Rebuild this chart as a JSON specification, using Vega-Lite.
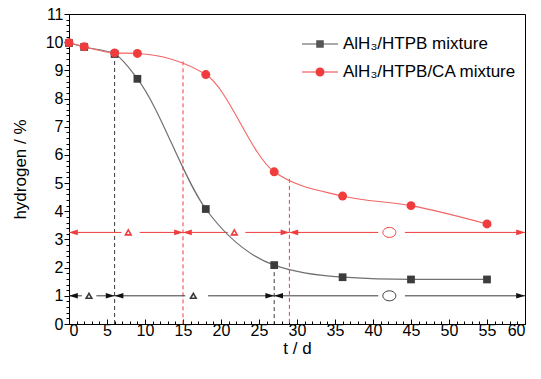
{
  "$schema": "https://vega.github.io/schema/vega-lite/v6.json",
  "width": 456,
  "height": 310,
  "autosize": "none",
  "padding": {"left": 69, "top": 14, "right": 16, "bottom": 55},
  "background": "white",
  "config": {
    "view": {"stroke": "#000", "strokeWidth": 1},
    "font": "Liberation Sans",
    "axis": {"grid": false, "domainColor": "#000", "tickColor": "#000", "labelColor": "#000", "titleColor": "#000", "labelFont": "Liberation Sans", "titleFont": "Liberation Sans", "titleFontWeight": "normal", "labelFontSize": 16, "titleFontSize": 17}
  },
  "datasets": {
    "curves": [
      {"series": "AlH₃/HTPB mixture", "t": 0, "h": 9.97},
      {"series": "AlH₃/HTPB mixture", "t": 2, "h": 9.83},
      {"series": "AlH₃/HTPB mixture", "t": 6, "h": 9.58},
      {"series": "AlH₃/HTPB mixture", "t": 9, "h": 8.7},
      {"series": "AlH₃/HTPB mixture", "t": 18, "h": 4.08},
      {"series": "AlH₃/HTPB mixture", "t": 27, "h": 2.09},
      {"series": "AlH₃/HTPB mixture", "t": 36, "h": 1.66},
      {"series": "AlH₃/HTPB mixture", "t": 45, "h": 1.58},
      {"series": "AlH₃/HTPB mixture", "t": 55, "h": 1.58},
      {"series": "AlH₃/HTPB/CA mixture", "t": 0, "h": 9.98},
      {"series": "AlH₃/HTPB/CA mixture", "t": 2, "h": 9.84},
      {"series": "AlH₃/HTPB/CA mixture", "t": 6, "h": 9.62},
      {"series": "AlH₃/HTPB/CA mixture", "t": 9, "h": 9.6},
      {"series": "AlH₃/HTPB/CA mixture", "t": 18, "h": 8.85},
      {"series": "AlH₃/HTPB/CA mixture", "t": 27, "h": 5.4},
      {"series": "AlH₃/HTPB/CA mixture", "t": 36, "h": 4.54},
      {"series": "AlH₃/HTPB/CA mixture", "t": 45, "h": 4.2},
      {"series": "AlH₃/HTPB/CA mixture", "t": 55, "h": 3.55}
    ],
    "drops": [
      {"series": "AlH₃/HTPB mixture", "t": 6, "h": 9.58},
      {"series": "AlH₃/HTPB mixture", "t": 27, "h": 2.09},
      {"series": "AlH₃/HTPB/CA mixture", "t": 15, "h": 9.32},
      {"series": "AlH₃/HTPB/CA mixture", "t": 29, "h": 5.15}
    ],
    "segments": [
      {"series": "AlH₃/HTPB/CA mixture", "level": 3.25, "x1": 0, "x2": 6.9},
      {"series": "AlH₃/HTPB/CA mixture", "level": 3.25, "x1": 9.3, "x2": 15},
      {"series": "AlH₃/HTPB/CA mixture", "level": 3.25, "x1": 15, "x2": 20.9},
      {"series": "AlH₃/HTPB/CA mixture", "level": 3.25, "x1": 23.2, "x2": 29},
      {"series": "AlH₃/HTPB/CA mixture", "level": 3.25, "x1": 29, "x2": 40.7},
      {"series": "AlH₃/HTPB/CA mixture", "level": 3.25, "x1": 44.2, "x2": 60},
      {"series": "AlH₃/HTPB mixture", "level": 1, "x1": 0, "x2": 1.7},
      {"series": "AlH₃/HTPB mixture", "level": 1, "x1": 3.6, "x2": 6},
      {"series": "AlH₃/HTPB mixture", "level": 1, "x1": 6, "x2": 15.3},
      {"series": "AlH₃/HTPB mixture", "level": 1, "x1": 18.3, "x2": 27},
      {"series": "AlH₃/HTPB mixture", "level": 1, "x1": 27, "x2": 40.7},
      {"series": "AlH₃/HTPB mixture", "level": 1, "x1": 44.2, "x2": 60}
    ],
    "arrows": [
      {"series": "AlH₃/HTPB/CA mixture", "level": 3.25, "t": 0, "dir": "left"},
      {"series": "AlH₃/HTPB/CA mixture", "level": 3.25, "t": 15, "dir": "right"},
      {"series": "AlH₃/HTPB/CA mixture", "level": 3.25, "t": 15, "dir": "left"},
      {"series": "AlH₃/HTPB/CA mixture", "level": 3.25, "t": 29, "dir": "right"},
      {"series": "AlH₃/HTPB/CA mixture", "level": 3.25, "t": 29, "dir": "left"},
      {"series": "AlH₃/HTPB/CA mixture", "level": 3.25, "t": 60, "dir": "right"},
      {"series": "AlH₃/HTPB mixture", "level": 1, "t": 0, "dir": "left"},
      {"series": "AlH₃/HTPB mixture", "level": 1, "t": 6, "dir": "right"},
      {"series": "AlH₃/HTPB mixture", "level": 1, "t": 6, "dir": "left"},
      {"series": "AlH₃/HTPB mixture", "level": 1, "t": 27, "dir": "right"},
      {"series": "AlH₃/HTPB mixture", "level": 1, "t": 27, "dir": "left"},
      {"series": "AlH₃/HTPB mixture", "level": 1, "t": 60, "dir": "right"}
    ],
    "symbols": [
      {"series": "AlH₃/HTPB/CA mixture", "level": 3.25, "t": 7.8, "kind": "triangle"},
      {"series": "AlH₃/HTPB/CA mixture", "level": 3.25, "t": 21.75, "kind": "triangle"},
      {"series": "AlH₃/HTPB/CA mixture", "level": 3.25, "t": 42.15, "kind": "circle"},
      {"series": "AlH₃/HTPB mixture", "level": 1, "t": 2.63, "kind": "triangle"},
      {"series": "AlH₃/HTPB mixture", "level": 1, "t": 16.36, "kind": "triangle"},
      {"series": "AlH₃/HTPB mixture", "level": 1, "t": 42.15, "kind": "circle"}
    ]
  },
  "layer": [
    {
      "data": {"name": "drops"},
      "mark": {"type": "rule", "strokeDash": [4, 3], "strokeWidth": 1},
      "encoding": {
        "x": {"field": "t", "type": "quantitative", "scale": {"domain": [0, 60], "nice": false}, "axis": null},
        "y": {"field": "h", "type": "quantitative", "scale": {"domain": [0, 11], "nice": false}, "axis": null},
        "y2": {"datum": 0},
        "stroke": {"field": "series", "type": "nominal", "scale": {"domain": ["AlH₃/HTPB mixture", "AlH₃/HTPB/CA mixture"], "range": ["#3a3a3a", "#f03c3c"]}, "legend": null}
      }
    },
    {
      "data": {"name": "segments"},
      "mark": {"type": "rule", "strokeWidth": 1},
      "encoding": {
        "x": {"field": "x1", "type": "quantitative", "axis": {"orient": "bottom", "values": [0,1,2,3,4,5,6,7,8,9,10,11,12,13,14,15,16,17,18,19,20,21,22,23,24,25,26,27,28,29,30,31,32,33,34,35,36,37,38,39,40,41,42,43,44,45,46,47,48,49,50,51,52,53,54,55,56,57,58,59,60], "labels": false, "domain": false, "tickSize": -3, "title": null}},
        "x2": {"field": "x2"},
        "y": {"field": "level", "type": "quantitative", "axis": {"orient": "left", "values": [0,0.2,0.4,0.6,0.8,1,1.2,1.4,1.6,1.8,2,2.2,2.4,2.6,2.8,3,3.2,3.4,3.6,3.8,4,4.2,4.4,4.6,4.8,5,5.2,5.4,5.6,5.8,6,6.2,6.4,6.6,6.8,7,7.2,7.4,7.6,7.8,8,8.2,8.4,8.6,8.8,9,9.2,9.4,9.6,9.8,10,10.2,10.4,10.6,10.8,11], "labels": false, "domain": false, "tickSize": 3, "title": null}},
        "stroke": {"field": "series", "type": "nominal", "legend": null}
      }
    },
    {
      "data": {"name": "arrows"},
      "transform": [{"filter": "datum.dir == 'right'"}],
      "mark": {"type": "point", "filled": true, "opacity": 1, "size": 64, "shape": "M0,0L-2.2,-0.7L-2.2,0.7Z"},
      "encoding": {
        "x": {"field": "t", "type": "quantitative", "axis": null},
        "y": {"field": "level", "type": "quantitative", "axis": null},
        "fill": {"field": "series", "type": "nominal", "scale": {"domain": ["AlH₃/HTPB mixture", "AlH₃/HTPB/CA mixture"], "range": ["#111111", "#f03c3c"]}, "legend": null}
      }
    },
    {
      "data": {"name": "arrows"},
      "transform": [{"filter": "datum.dir == 'left'"}],
      "mark": {"type": "point", "filled": true, "opacity": 1, "size": 64, "shape": "M0,0L2.2,-0.7L2.2,0.7Z"},
      "encoding": {
        "x": {"field": "t", "type": "quantitative", "axis": null},
        "y": {"field": "level", "type": "quantitative", "axis": null},
        "fill": {"field": "series", "type": "nominal", "legend": null}
      }
    },
    {
      "data": {"name": "symbols"},
      "transform": [{"filter": "datum.kind == 'triangle'"}],
      "mark": {"type": "point", "filled": false, "opacity": 1, "size": 32, "shape": "triangle-up", "strokeWidth": 1.6},
      "encoding": {
        "x": {"field": "t", "type": "quantitative", "axis": null},
        "y": {"field": "level", "type": "quantitative", "axis": null},
        "stroke": {"field": "series", "type": "nominal", "legend": null}
      }
    },
    {
      "data": {"name": "symbols"},
      "transform": [{"filter": "datum.kind == 'circle'"}],
      "mark": {"type": "point", "filled": false, "opacity": 1, "size": 100, "shape": "M-1.3,0A1.3,1 0 1,1 1.3,0A1.3,1 0 1,1 -1.3,0Z", "strokeWidth": 1},
      "encoding": {
        "x": {"field": "t", "type": "quantitative", "axis": null},
        "y": {"field": "level", "type": "quantitative", "axis": null},
        "stroke": {"field": "series", "type": "nominal", "legend": null}
      }
    },
    {
      "data": {"name": "curves"},
      "transform": [{"filter": "datum.series == 'AlH₃/HTPB mixture'"}],
      "mark": {"type": "line", "interpolate": "monotone", "color": "#707070", "strokeWidth": 1.2},
      "encoding": {
        "x": {"field": "t", "type": "quantitative", "axis": {"orient": "bottom", "values": [0,5,10,15,20,25,30,35,40,45,50,55,60], "tickSize": -5, "labelPadding": 3, "title": "t / d", "titlePadding": 2}},
        "y": {"field": "h", "type": "quantitative", "axis": {"orient": "left", "values": [0,1,2,3,4,5,6,7,8,9,10,11], "tickSize": 5, "labelPadding": 1, "title": "hydrogen / %", "titlePadding": 16}}
      }
    },
    {
      "data": {"name": "curves"},
      "transform": [{"filter": "datum.series == 'AlH₃/HTPB mixture'"}],
      "mark": {"type": "point", "shape": "square", "filled": true, "color": "#3c3c3c", "opacity": 1, "size": 60},
      "encoding": {
        "x": {"field": "t", "type": "quantitative", "axis": null},
        "y": {"field": "h", "type": "quantitative", "axis": null}
      }
    },
    {
      "data": {"name": "curves"},
      "transform": [{"filter": "datum.series == 'AlH₃/HTPB/CA mixture'"}],
      "mark": {"type": "line", "interpolate": "monotone", "color": "#f26464", "strokeWidth": 1.1},
      "encoding": {
        "x": {"field": "t", "type": "quantitative", "axis": null},
        "y": {"field": "h", "type": "quantitative", "axis": null}
      }
    },
    {
      "data": {"name": "curves"},
      "transform": [{"filter": "datum.series == 'AlH₃/HTPB/CA mixture'"}],
      "mark": {"type": "point", "shape": "circle", "filled": true, "color": "#f03c3c", "opacity": 1, "size": 80},
      "encoding": {
        "x": {"field": "t", "type": "quantitative", "axis": null},
        "y": {"field": "h", "type": "quantitative", "axis": null}
      }
    },
    {
      "data": {"name": "curves"},
      "mark": {"type": "point", "filled": true, "size": 0},
      "encoding": {
        "x": {"field": "t", "type": "quantitative", "axis": null},
        "y": {"field": "h", "type": "quantitative", "axis": null},
        "color": {"field": "series", "type": "nominal", "scale": {"range": ["#555555", "#f03c3c"]},
          "legend": {"orient": "none", "legendX": 242, "legendY": 21, "title": null, "symbolSize": 324, "symbolOpacity": 1, "labelFontSize": 17, "labelFont": "Liberation Sans", "labelColor": "#000", "labelOffset": 14, "rowPadding": 11, "padding": 0, "symbolStrokeWidth": 0, "labelLimit": 300}},
        "shape": {"field": "series", "type": "nominal", "scale": {"range": ["M-2,-0.06H2V0.06H-2Z M-0.42,-0.42H0.42V0.42H-0.42Z", "M-2,-0.06H2V0.06H-2Z M-0.5,0A0.5,0.5 0 1,1 0.5,0A0.5,0.5 0 1,1 -0.5,0Z"]},
          "legend": {"orient": "none", "legendX": 242, "legendY": 21, "title": null, "symbolSize": 324, "symbolOpacity": 1, "labelFontSize": 17, "labelFont": "Liberation Sans", "labelColor": "#000", "labelOffset": 14, "rowPadding": 11, "padding": 0, "symbolStrokeWidth": 0, "labelLimit": 300}}
      }
    }
  ],
  "resolve": {"axis": {"x": "independent", "y": "independent"}}
}
